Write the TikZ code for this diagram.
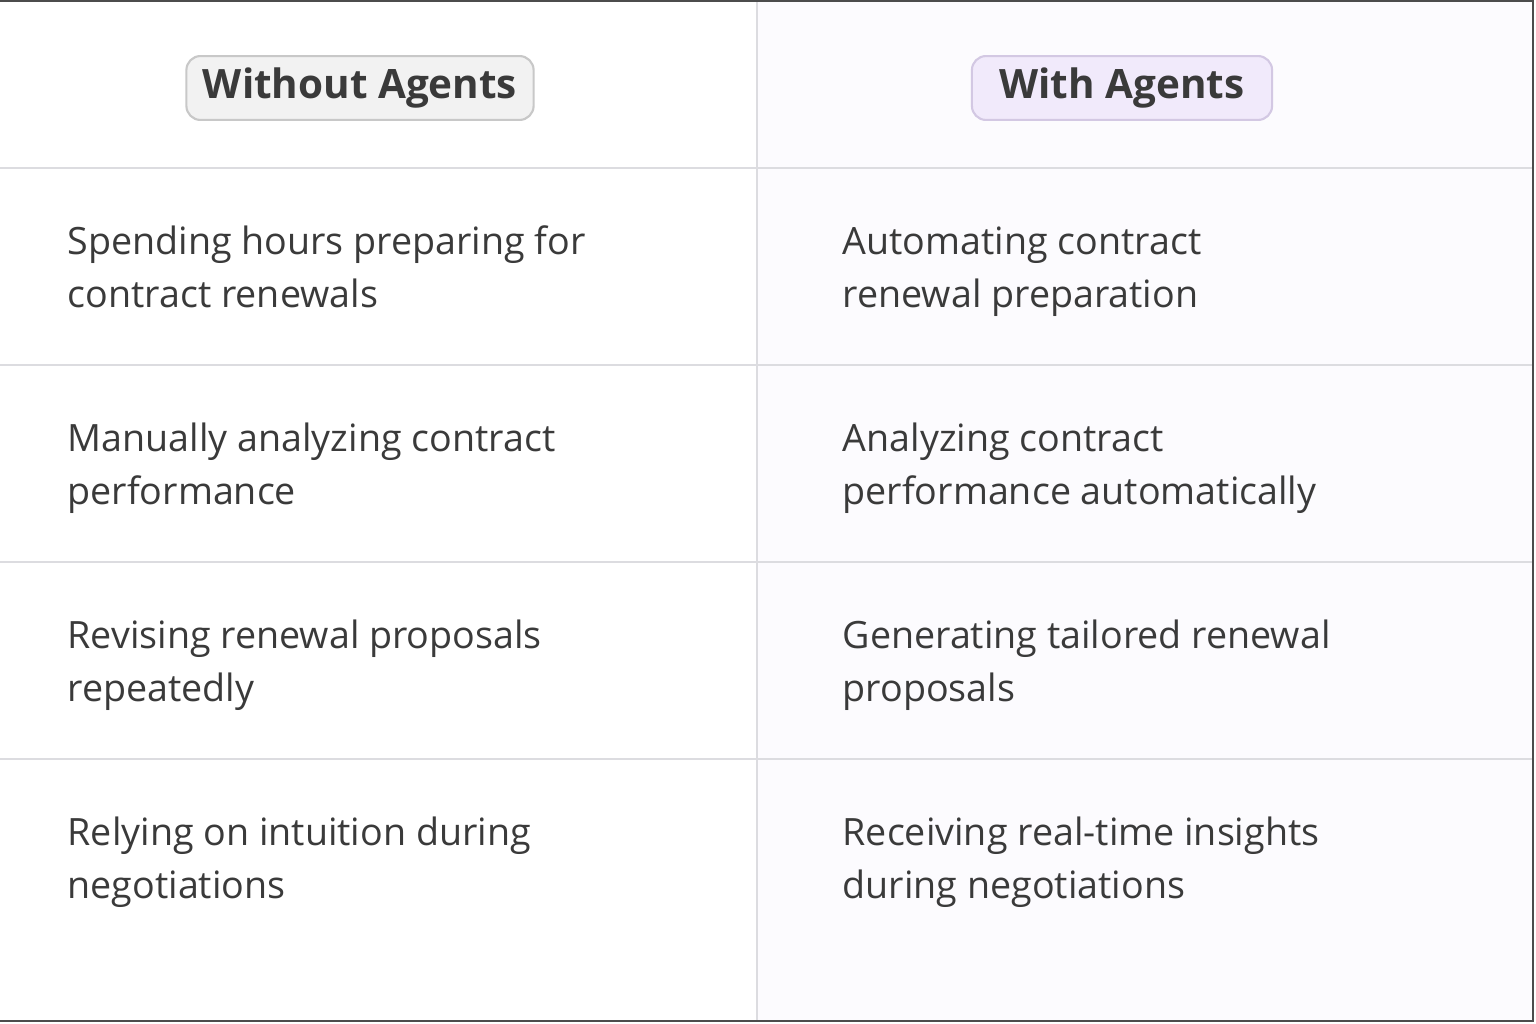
\documentclass[tikz,border=0pt]{standalone}
\usepackage{fontspec}
\setmainfont{Open Sans}
\definecolor{gridline}{HTML}{DCDCE0}
\definecolor{lefthead}{HTML}{F2F2F2}
\definecolor{leftheadline}{HTML}{C8C8C8}
\definecolor{righthead}{HTML}{F1EAFB}
\definecolor{rightheadline}{HTML}{D3C8E3}
\definecolor{righttint}{HTML}{FCFBFE}
\definecolor{textgray}{HTML}{3A3A3A}
\tikzset{
  cell/.style={anchor=base west, align=left, text=textgray, inner sep=0pt,
    font=\fontsize{10.7}{14.8}\selectfont},
  headbox/.style={draw, rounded corners=4pt, line width=0.6pt, text=textgray,
    minimum height=0.62cm, font=\bfseries\fontsize{11.5}{14}\selectfont}
}
\begin{document}
\begin{tikzpicture}[x=0.01cm, y=-0.01cm]
\useasboundingbox (0,0) rectangle (1536,1024);
% backgrounds
\fill[white] (0,0) rectangle (757,1024);
\fill[righttint] (757,0) rectangle (1533,1021);
% grid
\draw[gridline, line width=0.8pt] (757,0) -- (757,1021);
\foreach \y in {168,365,562,759}
  \draw[gridline, line width=0.8pt] (0,\y) -- (1533,\y);
\draw[black!70, line width=0.8pt] (0,1) -- (1533,1) -- (1533,1021) -- (0,1021);
% headers
\node[headbox, fill=lefthead, draw=leftheadline, minimum width=3.47cm] (hwithout) at (360,88) {Without Agents};
\node[headbox, fill=righthead, draw=rightheadline, minimum width=3.0cm] (hwith) at (1122,88) {With Agents};
% rows (base = last line)
\node[cell] (l1) at (67,307) {Spending hours preparing for\\contract renewals};
\node[cell] (r1) at (842,307) {Automating contract\\renewal preparation};
\node[cell] (l2) at (67,504) {Manually analyzing contract\\performance};
\node[cell] (r2) at (842,504) {Analyzing contract\\performance automatically};
\node[cell] (l3) at (67,701) {Revising renewal proposals\\repeatedly};
\node[cell] (r3) at (842,701) {Generating tailored renewal\\proposals};
\node[cell] (l4) at (67,898) {Relying on intuition during\\negotiations};
\node[cell] (r4) at (842,898) {Receiving real-time insights\\during negotiations};
\end{tikzpicture}
\end{document}
